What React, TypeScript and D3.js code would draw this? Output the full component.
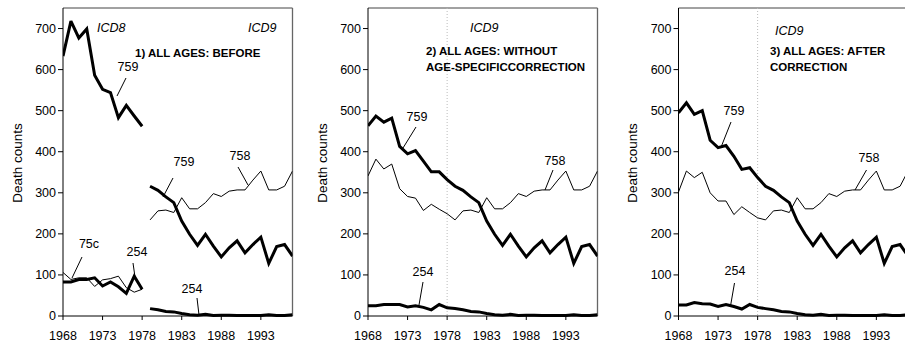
import React from "react";
import * as d3 from "d3";

// years
const yearsICD8 = [1968, 1969, 1970, 1971, 1972, 1973, 1974, 1975, 1976, 1977, 1978];
const yearsICD9 = [1979, 1980, 1981, 1982, 1983, 1984, 1985, 1986, 1987, 1988, 1989, 1990, 1991, 1992, 1993, 1994, 1995, 1996, 1997];
const xTicks = [1968, 1973, 1978, 1983, 1988, 1993];
const yTicks = [0, 100, 200, 300, 400, 500, 600, 700];

// panel 1: before (ICD8 codes)
const p1_759_icd8 = [633, 718, 677, 699, 586, 552, 544, 483, 513, 487, 462];
const p1_254_icd8 = [83, 83, 89, 89, 93, 73, 83, 71, 55, 97, 65];
const p1_75c_icd8 = [106, 89, 93, 93, 72, 88, 91, 97, 69, 58, 65];

// ICD9 period (shared by all panels)
const s759_icd9 = [316, 306, 290, 276, 231, 199, 172, 199, 170, 144, 166, 183, 154, 174, 192, 128, 169, 174, 146];
const s758_icd9 = [234, 256, 258, 252, 288, 261, 261, 276, 298, 291, 304, 307, 307, 331, 353, 307, 307, 316, 353];
const s254_icd9 = [18, 15, 11, 10, 6, 3, 2, 4, 1, 2, 2, 1, 1, 1, 1, 3, 1, 1, 3];

// panel 2: without age-specific correction
const p2_759_icd8 = [463, 487, 472, 482, 413, 395, 403, 377, 351, 351, 332];
const p2_758_icd8 = [341, 382, 358, 370, 310, 291, 287, 257, 272, 260, 249];
const p2_254_icd8 = [25, 25, 28, 28, 28, 22, 25, 21, 15, 28, 20];

// panel 3: after correction
const p3_759_icd8 = [495, 519, 491, 500, 428, 410, 415, 389, 357, 361, 337];
const p3_758_icd8 = [302, 353, 337, 350, 300, 280, 280, 247, 266, 252, 239];
const p3_254_icd8 = [27, 27, 33, 30, 29, 23, 28, 23, 17, 28, 21];

const FONT = "'Liberation Sans', Arial, Helvetica, sans-serif";
const W = 229.5;
const TOP = 8;
const BOTTOM = 316;

type Series = { years: number[]; values: number[]; thick: boolean };
type Label = { text: string; x: number; y: number; line?: [number, number, number, number] };

const ICD9_ALL = yearsICD8.concat(yearsICD9);

const panels = [
  {
    left: 63,
    dotted: false,
    series: [
      { years: yearsICD8, values: p1_75c_icd8, thick: false },
      { years: yearsICD8, values: p1_254_icd8, thick: true },
      { years: yearsICD8, values: p1_759_icd8, thick: true },
      { years: yearsICD9, values: s758_icd9, thick: false },
      { years: yearsICD9, values: s759_icd9, thick: true },
      { years: yearsICD9, values: s254_icd9, thick: true },
    ] as Series[],
    italics: [{ text: "ICD8", x: 34, y: 24 }, { text: "ICD9", x: 185, y: 24 }],
    title: { x: 72, y: 49, lines: ["1) ALL AGES: BEFORE"] },
    labels: [
      { text: "759", x: 65, y: 63, line: [63, 70, 54, 88] },
      { text: "759", x: 121, y: 158, line: [110, 170, 100, 189] },
      { text: "758", x: 177, y: 152, line: [175, 159, 185, 177] },
      { text: "75c", x: 26, y: 240, line: [19, 249, 9, 270] },
      { text: "254", x: 74, y: 248, line: [70, 255, 72, 269] },
      { text: "254", x: 129, y: 285, line: [134, 290, 136, 307] },
    ] as Label[],
  },
  {
    left: 368,
    dotted: true,
    series: [
      { years: ICD9_ALL, values: p2_758_icd8.concat(s758_icd9), thick: false },
      { years: ICD9_ALL, values: p2_759_icd8.concat(s759_icd9), thick: true },
      { years: ICD9_ALL, values: p2_254_icd8.concat(s254_icd9), thick: true },
    ] as Series[],
    italics: [{ text: "ICD9", x: 102, y: 24 }],
    title: { x: 58, y: 47, lines: ["2) ALL AGES: WITHOUT", "AGE-SPECIFICCORRECTION"] },
    labels: [
      { text: "759", x: 49, y: 113, line: [48, 119, 35, 140] },
      { text: "758", x: 187, y: 157, line: [185, 162, 177, 182] },
      { text: "254", x: 55, y: 268, line: [55, 274, 51, 297] },
    ] as Label[],
  },
  {
    left: 678.5,
    dotted: true,
    series: [
      { years: ICD9_ALL, values: p3_758_icd8.concat(s758_icd9), thick: false },
      { years: ICD9_ALL, values: p3_759_icd8.concat(s759_icd9), thick: true },
      { years: ICD9_ALL, values: p3_254_icd8.concat(s254_icd9), thick: true },
    ] as Series[],
    italics: [{ text: "ICD9", x: 96.5, y: 27 }],
    title: { x: 91.5, y: 47, lines: ["3) ALL AGES: AFTER", "CORRECTION"] },
    labels: [
      { text: "759", x: 55.5, y: 107, line: [52.5, 114, 43, 138] },
      { text: "758", x: 190.5, y: 154, line: [188, 162, 176.5, 182] },
      { text: "254", x: 56.5, y: 267, line: [56, 275, 52, 298] },
    ] as Label[],
  },
];

function Panel({ p }: { p: (typeof panels)[number] }) {
  const x = d3.scaleLinear().domain([1968, 1997]).range([0, W]);
  const y = d3.scaleLinear().domain([0, 750]).range([BOTTOM - TOP, 0]);
  const h = BOTTOM - TOP;
  const line = (s: Series) =>
    d3
      .line<number>()
      .x((_, i) => x(s.years[i]))
      .y((v) => y(v))(s.values) || "";

  return (
    <g transform={`translate(${p.left},${TOP})`}>
      <defs>
        <clipPath id={`clip-${p.left}`}>
          <rect x={0} y={-2} width={W} height={h + 4} />
        </clipPath>
      </defs>
      {/* frame */}
      <line x1={0} x2={W} y1={0} y2={0} stroke="#444" strokeWidth={1} />
      <line x1={W} x2={W} y1={0} y2={h} stroke="#666" strokeWidth={1.3} />
      {p.dotted && (
        <line x1={x(1978)} x2={x(1978)} y1={0} y2={h} stroke="#bbb" strokeWidth={1} strokeDasharray="1,2" />
      )}
      <g clipPath={`url(#clip-${p.left})`}>
        {p.series.map((s, i) => (
          <path
            key={i}
            d={line(s)}
            fill="none"
            stroke="#000"
            strokeWidth={s.thick ? 3 : 1}
            strokeLinejoin="miter"
            strokeMiterlimit={3}
          />
        ))}
      </g>
      {/* y axis */}
      <line x1={0} x2={0} y1={0} y2={h} stroke="#000" strokeWidth={1} />
      {yTicks.map((t) => (
        <g key={t} transform={`translate(0,${y(t)})`}>
          <line x1={-5} x2={0} stroke="#000" />
          <text x={-7} dy="0.35em" textAnchor="end" fontSize={12.5} fontFamily={FONT} fill="#000">
            {t}
          </text>
        </g>
      ))}
      {/* x axis */}
      <line x1={0} x2={W} y1={h} y2={h} stroke="#000" strokeWidth={1} />
      {xTicks.map((t) => (
        <g key={t} transform={`translate(${x(t)},${h})`}>
          <line y1={0} y2={4} stroke="#000" />
          <text y={24} textAnchor="middle" fontSize={12.5} fontFamily={FONT} fill="#000">
            {t}
          </text>
        </g>
      ))}
      <text
        transform={`translate(-46,${163 - TOP}) rotate(-90)`}
        textAnchor="middle"
        dy="0.35em"
        fontSize={13.5}
        fontFamily={FONT}
        fill="#000"
      >
        Death counts
      </text>
      {p.italics.map((t) => (
        <text key={t.text} x={t.x} y={t.y} fontStyle="italic" fontSize={12.5} fontFamily={FONT} fill="#000">
          {t.text}
        </text>
      ))}
      {p.title.lines.map((l, i) => (
        <text key={l} x={p.title.x} y={p.title.y + i * 16} fontWeight="bold" fontSize={11.5} fontFamily={FONT} fill="#000">
          {l}
        </text>
      ))}
      {p.labels.map((l, i) => (
        <g key={i}>
          <text x={l.x} y={l.y} textAnchor="middle" fontSize={12.5} fontFamily={FONT} fill="#000">
            {l.text}
          </text>
          {l.line && (
            <line x1={l.line[0]} y1={l.line[1]} x2={l.line[2]} y2={l.line[3]} stroke="#000" strokeWidth={1} />
          )}
        </g>
      ))}
    </g>
  );
}

export default function App() {
  return (
    <svg
      width={905}
      height={345}
      style={{ position: "absolute", left: 0, top: 0, background: "#fff" }}
    >
      <rect width={905} height={345} fill="#fff" />
      {panels.map((p) => (
        <Panel key={p.left} p={p} />
      ))}
    </svg>
  );
}
